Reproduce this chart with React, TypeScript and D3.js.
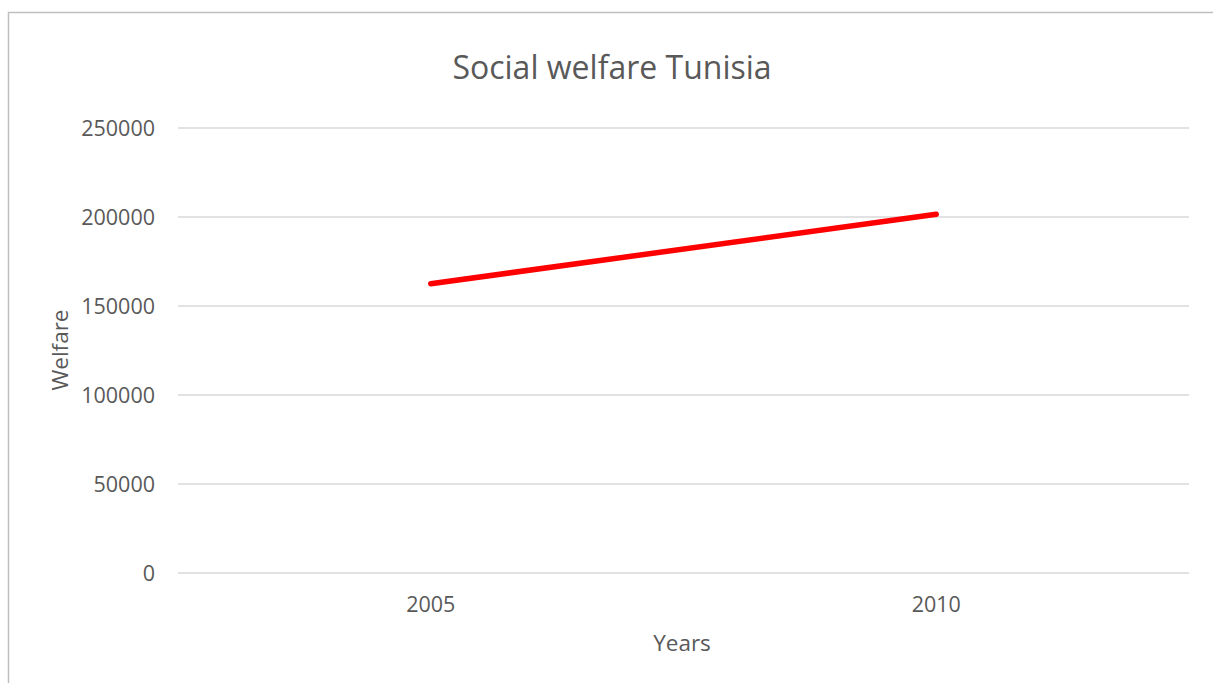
import React from "react";
import * as d3 from "d3";

const categories = ["2005", "2010"];
const welfare = [162500, 201500];
const yTicks = [0, 50000, 100000, 150000, 200000, 250000];
const title = "Social welfare Tunisia";
const xTitle = "Years";
const yTitle = "Welfare";

export default function App() {
  const W = 1213, H = 683;
  const left = 178, right = 1189, top = 128, bottom = 573;
  const x = d3.scaleBand<string>().domain(categories).range([left, right]);
  const y = d3.scaleLinear().domain([0, 250000]).range([bottom, top]);
  const pts = categories.map((c, i) => [x(c)! + x.bandwidth() / 2, y(welfare[i])] as [number, number]);
  const line = d3.line()(pts) || "";
  const font = "'Open Sans', 'Liberation Sans', sans-serif";
  const grey = "#595959";
  return (
    <svg width={W} height={H} style={{ position: "absolute", left: 0, top: 0, background: "#fff" }}>
      <rect x={0} y={0} width={W} height={H} fill="#fff" />
      <path d={`M8.5,${H} V12.5 H${W}`} fill="none" stroke="#bfbfbf" strokeWidth={1.5} />
      <text x={612} y={79} textAnchor="middle" fontFamily={font} fontSize={32} fill={grey}>{title}</text>
      {yTicks.map((t) => (
        <g key={t}>
          <line x1={left} x2={right} y1={y(t)} y2={y(t)} stroke="#d9d9d9" strokeWidth={1.5} />
          <text x={155} y={y(t)} dy="0.36em" textAnchor="end" fontFamily={font} fontSize={21.5} fill={grey}>{t}</text>
        </g>
      ))}
      {categories.map((c) => (
        <text key={c} x={x(c)! + x.bandwidth() / 2} y={612} textAnchor="middle" fontFamily={font} fontSize={21.5} fill={grey}>{c}</text>
      ))}
      <text x={682} y={651} textAnchor="middle" fontFamily={font} fontSize={22.5} fill={grey}>{xTitle}</text>
      <text transform={`translate(68,350) rotate(-90)`} textAnchor="middle" fontFamily={font} fontSize={22.5} fill={grey}>{yTitle}</text>
      <path d={line} fill="none" stroke="#ff0000" strokeWidth={5.5} strokeLinecap="round" />
    </svg>
  );
}
